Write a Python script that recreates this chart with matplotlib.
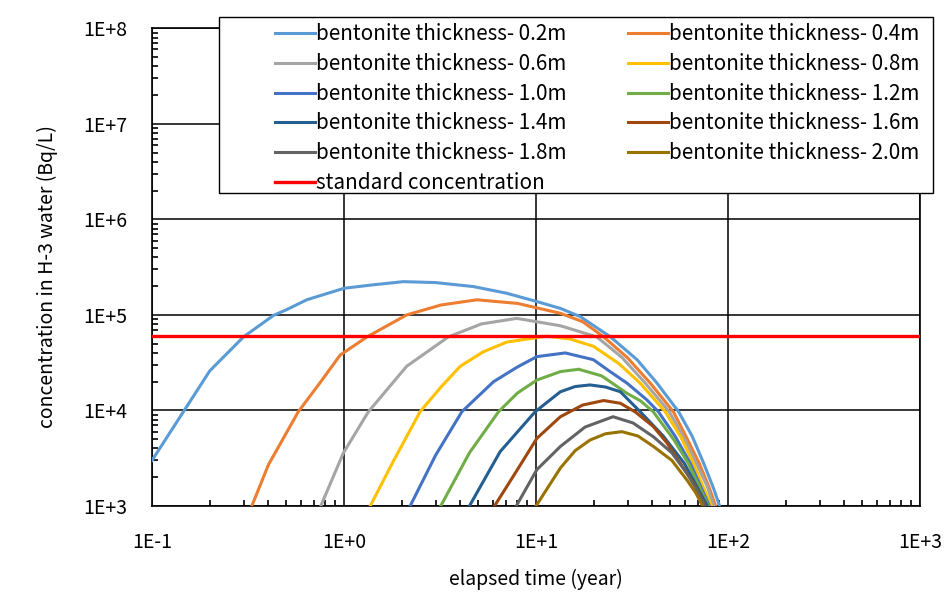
"""
H-3 concentration in water vs elapsed time for several bentonite thicknesses.
"""

import matplotlib.pyplot as plt
from matplotlib.patches import Rectangle
from matplotlib.ticker import FixedLocator, FixedFormatter, LogLocator, NullFormatter

plt.rcParams["font.family"] = ["Noto Sans CJK JP", "DejaVu Sans"]

# values (time in years, concentration in Bq/L)
t_02 = [0.1, 0.2, 0.3, 0.43, 0.5, 0.64, 1.0, 1.4, 2.04, 3.0, 4.72, 7.0, 10.1, 13.4, 17.0,
        24.4, 33.6, 42.7, 55.3, 65.0, 74.7, 84.0, 91.2]
c_02 = [3.0e3, 2.6e4, 5.9e4, 9.9e4, 1.13e5, 1.44e5, 1.9e5, 2.06e5, 2.23e5, 2.18e5, 1.98e5,
        1.69e5, 1.38e5, 1.17e5, 9.6e4, 5.9e4, 3.4e4, 1.93e4, 9.7e3, 5.4e3, 2.8e3, 1.54e3, 9.5e2]

t_04 = [0.331, 0.404, 0.578, 0.75, 0.955, 1.32, 2.12, 3.2, 4.92, 8.0, 13.4, 17.5, 22.5, 30.0,
        39.4, 51.9, 60.0, 70.8, 80.0, 86.9]
c_04 = [1.0e3, 2.7e3, 9.7e3, 1.95e4, 3.8e4, 5.9e4, 1.0e5, 1.27e5, 1.44e5, 1.32e5, 1.04e5,
        8.5e4, 5.9e4, 3.55e4, 1.93e4, 9.7e3, 5.5e3, 2.8e3, 1.54e3, 9.5e2]

t_06 = [0.757, 0.993, 1.34, 2.12, 3.50, 5.2, 7.94, 13.4, 20.7, 28.0, 37.1, 49.4, 58.0, 68.4,
        78.0, 84.9]
c_06 = [1.0e3, 3.6e3, 9.7e3, 2.9e4, 5.9e4, 8.05e4, 9.2e4, 7.7e4, 5.9e4, 3.6e4, 1.93e4, 9.7e3,
        5.5e3, 2.8e3, 1.6e3, 9.5e2]

t_08 = [1.37, 1.8, 2.49, 3.2, 4.03, 5.3, 7.05, 11.4, 15.0, 19.9, 27.0, 34.9, 47.1, 57.0, 65.9,
        82.8]
c_08 = [1.0e3, 2.9e3, 9.7e3, 1.76e4, 2.9e4, 4.1e4, 5.2e4, 6.0e4, 5.6e4, 4.7e4, 3.1e4, 1.93e4,
        9.7e3, 5.2e3, 2.8e3, 9.5e2]

t_10 = [2.21, 3.0, 4.11, 6.01, 8.0, 10.1, 14.2, 19.9, 24.0, 29.8, 37.8, 43.4, 53.0, 63.6, 80.9]
c_10 = [1.0e3, 3.4e3, 9.7e3, 2.0e4, 2.85e4, 3.66e4, 4.0e4, 3.4e4, 2.6e4, 1.93e4, 1.29e4,
        9.7e3, 5.4e3, 2.8e3, 9.5e2]

t_12 = [3.19, 4.5, 6.38, 8.0, 10.1, 13.4, 16.7, 22.0, 29.8, 35.0, 40.8, 52.0, 62.1, 80.0]
c_12 = [1.0e3, 3.6e3, 9.7e3, 1.52e4, 2.08e4, 2.55e4, 2.7e4, 2.3e4, 1.51e4, 1.26e4, 9.7e3,
        5.0e3, 2.8e3, 9.5e2]

t_14 = [4.50, 6.5, 9.9, 13.4, 16.0, 19.1, 23.0, 27.5, 34.9, 46.0, 59.2, 79.1]
c_14 = [1.0e3, 3.7e3, 9.7e3, 1.57e4, 1.78e4, 1.85e4, 1.76e4, 1.57e4, 9.7e3, 5.4e3, 2.8e3, 9.5e2]

t_16 = [6.08, 8.0, 10.1, 13.4, 17.5, 22.5, 27.5, 33.0, 40.8, 48.0, 56.4, 67.0, 77.1]
c_16 = [1.0e3, 2.4e3, 5.1e3, 8.6e3, 1.14e4, 1.27e4, 1.19e4, 9.6e3, 6.8e3, 4.6e3, 2.8e3,
        1.66e3, 9.5e2]

t_18 = [7.89, 10.1, 13.4, 18.0, 25.2, 32.0, 40.9, 51.0, 61.1, 69.0, 76.2]
c_18 = [1.0e3, 2.4e3, 4.2e3, 6.7e3, 8.6e3, 7.4e3, 5.3e3, 3.6e3, 2.2e3, 1.47e3, 9.5e2]

t_20 = [10.0, 13.4, 16.0, 19.1, 23.0, 28.0, 34.0, 40.9, 51.0, 61.1, 68.0, 74.7]
c_20 = [1.0e3, 2.5e3, 3.8e3, 4.9e3, 5.7e3, 6.0e3, 5.4e3, 4.2e3, 3.0e3, 1.87e3, 1.37e3, 9.5e2]

thickness = ["0.2", "0.4", "0.6", "0.8", "1.0", "1.2", "1.4", "1.6", "1.8", "2.0"]
times = [t_02, t_04, t_06, t_08, t_10, t_12, t_14, t_16, t_18, t_20]
concs = [c_02, c_04, c_06, c_08, c_10, c_12, c_14, c_16, c_18, c_20]
colors = ["#5B9BD5", "#ED7D31", "#A5A5A5", "#FFC000", "#4472C4",
          "#70AD47", "#255E91", "#9E480E", "#636363", "#997300"]

standard_t = [0.1, 1000]
standard_c = [6.0e4, 6.0e4]

x_ticks = [0.1, 1, 10, 100, 1000]
x_labels = ["1E-1", "1E+0", "1E+1", "1E+2", "1E+3"]
y_ticks = [1e3, 1e4, 1e5, 1e6, 1e7, 1e8]
y_labels = ["1E+3", "1E+4", "1E+5", "1E+6", "1E+7", "1E+8"]


def main():
    W, H = 953, 608
    fig = plt.figure(figsize=(W / 100, H / 100), dpi=100)
    ax = fig.add_axes([152 / W, 1 - 506 / H, 768 / W, 477.7 / H])

    handles = []
    for t, c, th, col in zip(times, concs, thickness, colors):
        (h,) = ax.plot(t, c, color=col, lw=2.2, label=f"bentonite thickness- {th}m", zorder=3)
        handles.append(h)
    (hs,) = ax.plot(standard_t, standard_c, color="#FF0000", lw=2.4,
                    label="standard concentration", zorder=4)

    ax.set_xscale("log")
    ax.set_yscale("log")
    ax.set_xlim(0.1, 1000)
    ax.set_ylim(1e3, 1e8)

    ax.xaxis.set_major_locator(FixedLocator(x_ticks))
    ax.xaxis.set_major_formatter(FixedFormatter(x_labels))
    ax.yaxis.set_major_locator(FixedLocator(y_ticks))
    ax.yaxis.set_major_formatter(FixedFormatter(y_labels))
    for axis in (ax.xaxis, ax.yaxis):
        axis.set_minor_locator(LogLocator(base=10, subs=range(2, 10), numticks=20))
        axis.set_minor_formatter(NullFormatter())

    ax.tick_params(which="major", direction="in", length=0, labelsize=14)
    ax.tick_params(axis="x", which="major", pad=19)
    ax.tick_params(axis="y", which="major", pad=18)
    ax.tick_params(which="minor", direction="in", length=4, width=1.2, color="black")
    ax.grid(True, which="major", color="black", lw=1.1)
    for s in ax.spines.values():
        s.set_color("black")
        s.set_linewidth(1.2)

    ax.set_xlabel("elapsed time (year)", fontsize=14)
    ax.set_ylabel("concentration in H-3 water (Bq/L)", fontsize=14)
    ax.xaxis.set_label_coords(0.5, -0.132)
    ax.yaxis.set_label_coords(-0.122, 0.48)

    # legend box drawn separately so it can be wider than its entries
    box = Rectangle((219 / W, 1 - 193 / H), 714 / W, 176 / H, transform=fig.transFigure,
                    facecolor="white", edgecolor="black", lw=1.0, zorder=4.9)
    fig.add_artist(box)

    # row-major order like the original: left column first
    order = [0, 2, 4, 6, 8]
    left = [handles[i] for i in order] + [hs]
    right = [handles[i + 1] for i in order]
    fig.legend(left + right, [h.get_label() for h in left + right],
               ncol=2, loc="upper left", bbox_to_anchor=(275 / W, 1 - 23.5 / H),
               frameon=False, fontsize=14.9, labelspacing=0.37,
               handlelength=1.95, handletextpad=0.05, borderaxespad=0,
               columnspacing=2.95, borderpad=0)

    fig.savefig("out.png", dpi=100)


if __name__ == "__main__":
    main()
